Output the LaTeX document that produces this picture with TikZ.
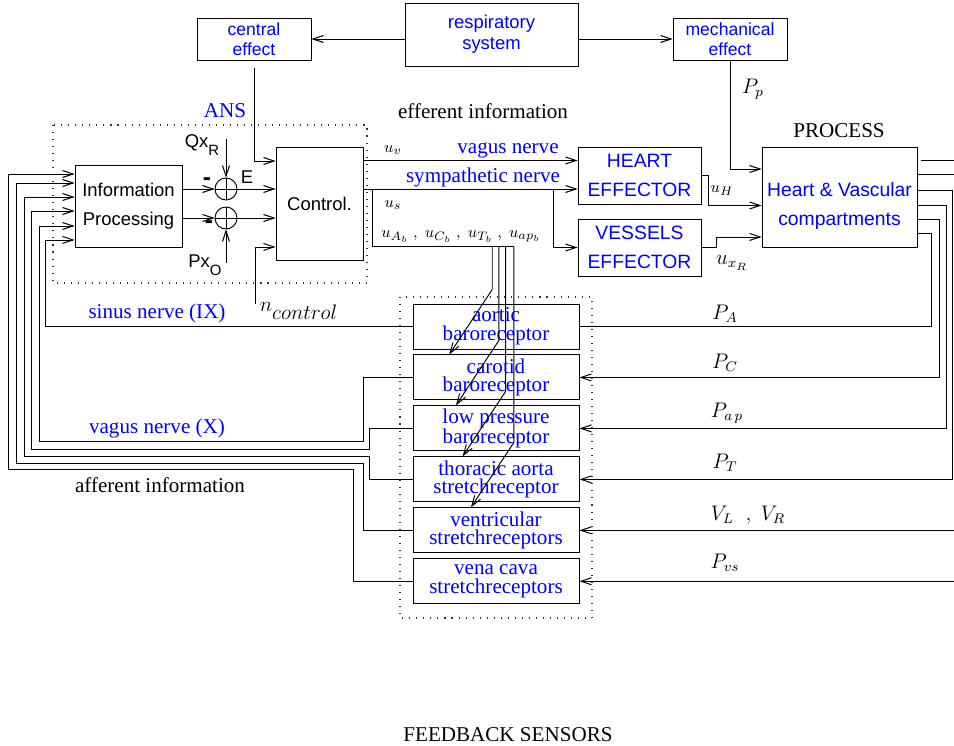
\documentclass[tikz,border=0pt]{standalone}
\usepackage{fontspec}
\setmainfont{Liberation Serif}
\setsansfont{Liberation Sans}
\usepackage{xcolor}
\usepackage{tikz}
\usetikzlibrary{positioning,arrows.meta,calc}

\begin{document}
\begin{tikzpicture}[
  x=0.02cm, y=-0.02cm,
  line width=0.55pt,
  blok/.style={
    rectangle, draw=black, line width=0.55pt,
    inner sep=1pt, align=center
  },
  sfbox/.style={blok, font=\fontsize{10.5}{16.5}\selectfont\sffamily},
  sensor/.style={
    blok, text=blue, minimum width=3.32cm, minimum height=0.9cm,
    font=\fontsize{12}{10.6}\selectfont
  },
  summ/.style={circle, draw, minimum size=0.44cm, inner sep=0pt},
  arr/.style={-{Straight Barb[length=2.1mm,width=1.4mm]}, line width=0.55pt},
  lbl/.style={font=\fontsize{12}{14}\selectfont, inner sep=0pt},
  nerve/.style={lbl, text=blue},
  sflbl/.style={font=\fontsize{10.5}{12}\selectfont\sffamily, inner sep=0pt},
  sig/.style={font=\fontsize{9.5}{11}\selectfont, inner sep=0pt},
  dotbox/.style={draw, black!80, line width=0.6pt, dash pattern=on 0.6pt off 3.4pt}
]

\useasboundingbox (0,0) rectangle (954,746);

% --- Respiratory system on top ---
\node[sfbox, text=blue, minimum width=3.46cm, minimum height=1.26cm,
      font=\fontsize{10.5}{12}\selectfont\sffamily] (resp) at (491.5,34.5) {respiratory\\system};
\node[sfbox, text=blue, minimum width=2.28cm, minimum height=0.84cm,
      font=\fontsize{10}{11.5}\selectfont\sffamily] (central) at (254,39) {central\\effect};
\node[sfbox, text=blue, minimum width=2.28cm, minimum height=0.84cm,
      font=\fontsize{10}{11.5}\selectfont\sffamily] (mech) at (730,39) {mechanical\\effect};

\draw[arr] (resp.west |- central) -- (central.east);
\draw[arr] (resp.east |- mech) -- (mech.west);

% --- ANS: processing, comparison, control ---
\draw[dotbox] (53,125) rectangle (367,283);
\node[nerve] (ans) at (225,111) {ANS};
\node[lbl] (eff) at (483,111) {efferent information};

\node[sfbox, minimum width=2.14cm, minimum height=1.64cm] (info) at (128.5,206) {Information\\Processing};
\node[sfbox, minimum width=1.74cm, minimum height=2.26cm] (control) at (319.5,203.5) {Control.};
\node[summ] (sum1) at (226,189) {};
\node[summ] (sum2) at (226,218) {};
\draw (sum1.north) -- (sum1.south) (sum1.west) -- (sum1.east);
\draw (sum2.north) -- (sum2.south) (sum2.west) -- (sum2.east);

\draw[arr] (info.east |- sum1) -- (sum1);
\draw[arr] (info.east |- sum2) -- (sum2);
\draw[arr] (sum1) -- (control.west |- sum1);
\draw[arr] (sum2) -- (control.west |- sum2);

\coordinate (qxin) at (226,139);
\coordinate (pxin) at (226,263);
\draw[arr] (qxin) -- (sum1);
\draw[arr] (pxin) -- (sum2);
\node[sflbl] (qx) at (202,145) {Qx\raisebox{-0.8ex}{\fontsize{8.5}{9}\selectfont R}};
\node[sflbl] (px) at (205,265) {Px\raisebox{-0.8ex}{\fontsize{8.5}{9}\selectfont O}};
\node[sflbl, font=\fontsize{14}{14}\selectfont\sffamily\bfseries] (m1) at (207,182) {-};
\node[sflbl, font=\fontsize{14}{14}\selectfont\sffamily\bfseries] (m2) at (209,225) {-};
\node[sflbl] (err) at (247,177) {E};

\draw[arr, shorten <=0.16cm] (central.south) |- ([yshift=0.85cm]control.west);
\coordinate (nin) at (255,304);
\draw[arr] (nin) |- ([yshift=-0.87cm]control.west);
\node[lbl] (nctl) at (299,311) {$n_{\textstyle control}$};

% --- Efferent nerves to the effectors ---
\node[sfbox, text=blue, minimum width=2.46cm, minimum height=1.14cm,
      font=\fontsize{11}{16.5}\selectfont\sffamily] (heart) at (639.5,175.5) {HEART\\EFFECTOR};
\node[sfbox, text=blue, minimum width=2.46cm, minimum height=1.14cm,
      font=\fontsize{11}{16.5}\selectfont\sffamily] (vessels) at (639.5,247.5) {VESSELS\\EFFECTOR};

\coordinate (uv) at ([yshift=0.86cm]control.east);
\coordinate (us) at ([yshift=0.29cm]control.east);
\draw[arr] (uv) -- (uv -| heart.west);
\draw[arr] (us) -- (us -| heart.west);
\coordinate (sbr) at (553,189);
\draw[arr] (sbr) |- (vessels.west);

\node[sig] (uvl) at (393,150) {$u_v$};
\node[nerve] (vagl) at (508,150) {vagus nerve};
\node[nerve] (syml) at (483,177) {sympathetic nerve};
\node[sig] (usl) at (393,205) {$u_s$};
\node[sig] (ubl) at (461,237) {$u_{A_b}\;,\;u_{C_b}\;,\;u_{T_b}\;,\;u_{ap_b}$};

% --- Process ---
\node[lbl] (proct) at (839,131) {PROCESS};
\node[sfbox, text=blue, minimum width=3.1cm, minimum height=2cm,
      font=\fontsize{11}{16.5}\selectfont\sffamily] (process) at (839.5,197)
  {\raisebox{-0.16cm}[\height][\depth]{\begin{tabular}{@{}c@{}}Heart \& Vascular\\compartments\end{tabular}}};

\draw[arr] (heart.east) -- ++(7,0) |- ([yshift=-0.17cm]process.west);
\draw[arr] (vessels.east) -- ++(15,0) |- ([yshift=-0.8cm]process.west);
\draw[arr] (mech.south) |- ([yshift=0.56cm]process.west);
\node[lbl] (ppl) at (753,89) {$P_p$};
\node[sig] (uhl) at (722,191) {$u_H$};
\node[lbl] (uxl) at (732,263) {$u_{x_R}$};

% --- Feedback sensors ---
\draw[dotbox] (400,297) rectangle (592,618);
\node[sensor] (aortic) at (496,326.5) {aortic\\baroreceptor};
\node[sensor, below=0.1cm of aortic] (carotid) {carotid\\baroreceptor};
\node[sensor, below=0.1cm of carotid] (lowp) {low pressure\\baroreceptor};
\node[sensor, below=0.1cm of lowp] (thoracic) {thoracic aorta\\stretchreceptor};
\node[sensor, below=0.1cm of thoracic] (ventr) {ventricular\\stretchreceptors};
\node[sensor, below=0.1cm of ventr] (vena) {vena cava\\stretchreceptors};

% efferent fan down to the sensors
\coordinate (ubr) at (372,189);
\coordinate (fan) at (372,246.7);
\coordinate (tA) at ($(carotid.north west)!0.22!(carotid.north east)$);
\coordinate (tB) at ($(lowp.north west)!0.26!(lowp.north east)$);
\coordinate (tC) at ($(thoracic.north west)!0.30!(thoracic.north east)$);
\coordinate (tD) at ($(ventr.north west)!0.35!(ventr.north east)$);
\coordinate (kA) at ($(tA)+(43,-65)$);
\coordinate (kB) at ($(tB)+(43,-65)$);
\coordinate (kC) at ($(tC)+(43,-65)$);
\coordinate (kD) at ($(tD)+(43,-65)$);
\draw (ubr) |- (kD |- fan);
\draw[arr] (kA |- fan) -- (kA) -- (tA);
\draw[arr] (kB |- fan) -- (kB) -- (tB);
\draw[arr] (kC |- fan) -- (kC) -- (tC);
\draw[arr] (kD |- fan) -- (kD) -- (tD);

% process outputs to the sensors
\coordinate (redge) at (954,0);
\coordinate (po1) at ([yshift=0.73cm]process.east);
\coordinate (po2) at ([yshift=0.46cm]process.east);
\coordinate (po3) at ([yshift=0.13cm]process.east);
\coordinate (po4) at ([yshift=-0.16cm]process.east);
\coordinate (po5) at ([yshift=-0.44cm]process.east);
\coordinate (po6) at ([yshift=-0.73cm]process.east);
\coordinate (cT) at (952.7,0);
\coordinate (cP) at (946,0);
\coordinate (cC) at (939.3,0);
\coordinate (cA) at (931.7,0);
\draw[shorten <=0.08cm] (po1) -- (po1 -| redge);
\draw (po2) -- (po2 -| redge);
\draw[arr] (po3) -| (cT |- thoracic) -- (thoracic.east);
\draw[arr] (po4) -| (cP |- lowp) -- (lowp.east);
\draw[arr] (po5) -| (cC |- carotid) -- (carotid.east);
\draw (po6) -| (cA |- aortic) -- (aortic.east);
\draw[arr] (ventr -| redge) -- (ventr.east);
\draw[arr] (vena -| redge) -- (vena.east);

\node[lbl] (pa) at (725,314) {$P_A$};
\node[lbl] (pc) at (725,363) {$P_C$};
\node[lbl] (pap) at (727,413) {$P_{a\,p}$};
\node[lbl] (pt) at (725,463) {$P_T$};
\node[lbl] (vlr) at (748,515) {$V_L\;\;,\;V_R$};
\node[lbl] (pvs) at (725,563) {$P_{vs}$};

% afferent nerves back to the ANS
\coordinate (in1) at ([yshift=0.64cm]info.west);
\coordinate (in2) at ([yshift=0.46cm]info.west);
\coordinate (in3) at ([yshift=0.18cm]info.west);
\coordinate (in4) at ([yshift=-0.10cm]info.west);
\coordinate (in5) at ([yshift=-0.40cm]info.west);
\coordinate (in6) at ([yshift=-0.68cm]info.west);
\coordinate (k1) at (8.3,0);
\coordinate (k2) at (16.7,0);
\coordinate (k3) at (24,0);
\coordinate (k4) at (31.7,0);
\coordinate (k5) at (39,0);
\coordinate (k6) at (45.7,0);
\draw[arr] (aortic.west) -| (k6 |- in6) -- (in6);
\draw[arr] (carotid.west) -| (363,441.7) -| (k5 |- in5) -- (in5);
\draw[arr] (lowp.west) -| (369,449) -| (k4 |- in4) -- (in4);
\draw[arr] (thoracic.west) -| (369,456) -| (k3 |- in3) -- (in3);
\draw[arr] (ventr.west) -| (363,463) -| (k2 |- in2) -- (in2);
\draw[arr] (vena.west) -| (353,469) -| (k1 |- in1) -- (in1);

\node[nerve] (sinl) at (157,313) {sinus nerve (IX)};
\node[nerve] (vxl) at (157,428) {vagus nerve (X)};
\node[lbl] (afl) at (160,485) {afferent information};

% --- Title strip below ---
\node[lbl] (fbl) at (508,735) {FEEDBACK SENSORS};

\end{tikzpicture}
\end{document}
